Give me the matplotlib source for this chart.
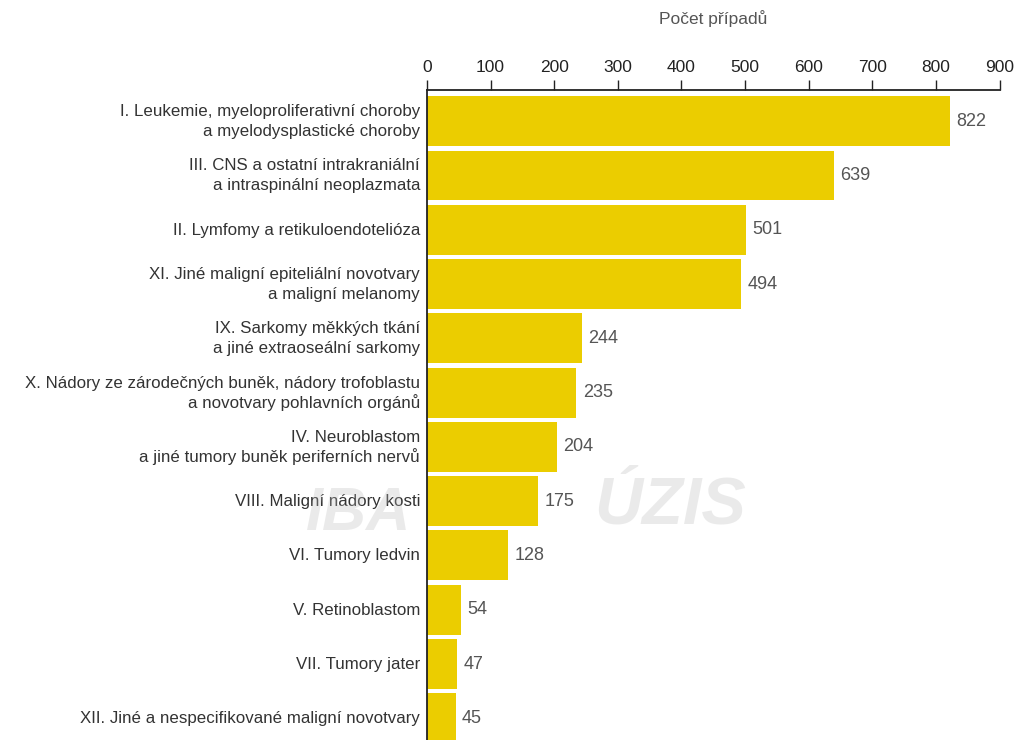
import matplotlib.pyplot as plt
from matplotlib import transforms

plt.rcParams['font.family'] = ['Liberation Sans', 'DejaVu Sans']

categories = [
    "I. Leukemie, myeloproliferativní choroby\na myelodysplastické choroby",
    "III. CNS a ostatní intrakraniální\na intraspinální neoplazmata",
    "II. Lymfomy a retikuloendotelióza",
    "XI. Jiné maligní epiteliální novotvary\na maligní melanomy",
    "IX. Sarkomy měkkých tkání\na jiné extraoseální sarkomy",
    "X. Nádory ze zárodečných buněk, nádory trofoblastu\na novotvary pohlavních orgánů",
    "IV. Neuroblastom\na jiné tumory buněk periferních nervů",
    "VIII. Maligní nádory kosti",
    "VI. Tumory ledvin",
    "V. Retinoblastom",
    "VII. Tumory jater",
    "XII. Jiné a nespecifikované maligní novotvary",
]
values = [822, 639, 501, 494, 244, 235, 204, 175, 128, 54, 47, 45]
xticks = [0, 100, 200, 300, 400, 500, 600, 700, 800, 900]

fig = plt.figure(figsize=(10.19, 7.40), dpi=100)
ax = fig.add_axes([0.419, 0.0, 0.562, 0.878])

pos = list(range(len(values)))
ax.barh(pos, values, height=0.92, color='#EBCD00', zorder=2)
for p, v in zip(pos, values):
    ax.text(v + 10, p, str(v), va='center', ha='left', fontsize=13, color='#555555')

ax.set_xlim(0, 900)
ax.set_ylim(11.4, -0.57)
ax.set_yticks([])

# category labels, drawn line by line so the spacing stays even
trans = transforms.blended_transform_factory(ax.transAxes, ax.transData)
line_gap = 20 * 0.72  # points
for p, lab in zip(pos, categories):
    lines = lab.split('\n')
    n = len(lines)
    for j, line in enumerate(lines):
        dy = -(j - (n - 1) / 2) * line_gap - 5 * 0.72
        t = transforms.offset_copy(trans, fig=fig, x=-5, y=dy, units='points')
        ax.text(0, p, line, transform=t, ha='right', va='baseline',
                fontsize=12.2, color='#333333', clip_on=False)

ax.xaxis.tick_top()
ax.xaxis.set_label_position('top')
ax.set_xticks(xticks)
ax.tick_params(axis='x', direction='out', length=7, width=1, colors='#222222',
               labelsize=12.5, pad=4)
ax.set_xlabel("Počet případů", fontsize=12.5, color='#555555', labelpad=26)

for s in ['right', 'bottom']:
    ax.spines[s].set_visible(False)
ax.spines['top'].set_color('#222222')
ax.spines['left'].set_color('#222222')
ax.spines['top'].set_linewidth(1.3)
ax.spines['left'].set_linewidth(1.3)

# faint watermarks
fig.text(0.352, 0.305, "IBA", fontsize=44, fontweight='bold', style='italic',
         color='#bbbbbb', alpha=0.3, ha='center', va='center', zorder=0)
fig.text(0.658, 0.315, "ÚZIS", fontsize=48, fontweight='bold', style='italic',
         color='#bbbbbb', alpha=0.3, ha='center', va='center', zorder=0)

fig.savefig('out.png', dpi=100)
